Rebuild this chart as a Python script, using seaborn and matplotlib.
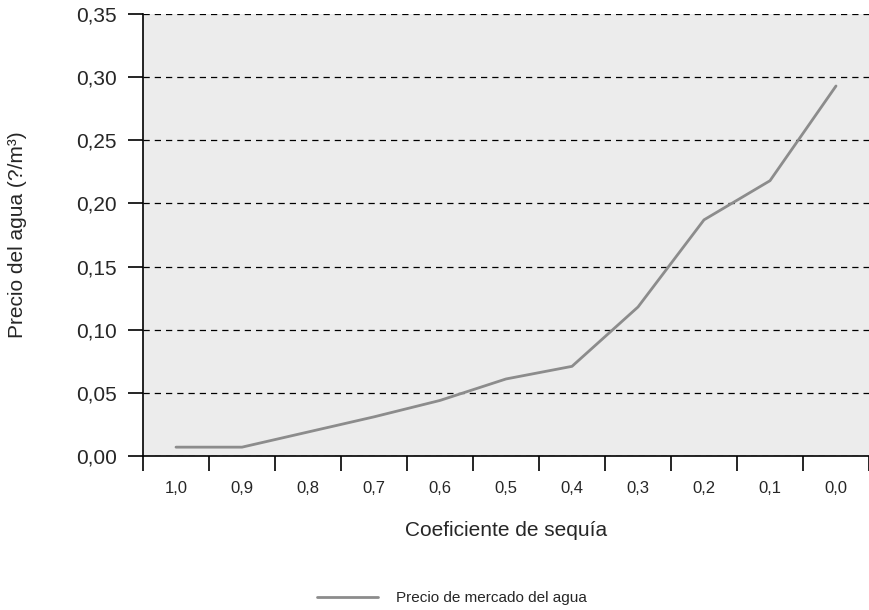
import matplotlib.pyplot as plt
import numpy as np
import pandas as pd
import seaborn as sns
from matplotlib.ticker import FixedLocator, FuncFormatter

sns.set_style("white")
plt.rcParams['font.family'] = ['Liberation Sans', 'DejaVu Sans']

# Data
coef = ["1,0", "0,9", "0,8", "0,7", "0,6", "0,5", "0,4", "0,3", "0,2", "0,1", "0,0"]
precio = [0.007, 0.007, 0.019, 0.031, 0.044, 0.061, 0.071, 0.118, 0.187, 0.218, 0.293]

df = pd.DataFrame({"coef": coef, "precio": precio})

fig = plt.figure(figsize=(8.69, 6.10), dpi=100)
ax = fig.add_axes([143 / 869, 1 - 456 / 610, 1 - 143 / 869, 442 / 610])
ax.set_facecolor("#ececec")

sns.lineplot(data=df, x="coef", y="precio", ax=ax, color="#8c8c8c",
             linewidth=2, label="Precio de mercado del agua", sort=False)

ax.set_xlim(-0.5, len(coef) - 0.5)
ax.set_ylim(0, 0.35)
ax.set_yticks(np.arange(0, 0.351, 0.05))
ax.yaxis.set_major_formatter(FuncFormatter(lambda v, p: f"{v:.2f}".replace(".", ",")))

# x labels in category centers, tick marks at the boundaries
ax.set_xticks(range(len(coef)))
ax.set_xticklabels(coef)
ax.xaxis.set_minor_locator(FixedLocator(np.arange(-0.5, len(coef) - 0.4, 1)))
ax.tick_params(axis="x", which="major", bottom=True, length=0, pad=18, labelsize=12)
ax.tick_params(axis="x", which="minor", bottom=True, length=11, width=1.2, color="black")
ax.tick_params(axis="y", left=True, length=11, width=1.2, color="black", labelsize=15, pad=8)

ax.yaxis.grid(True, linestyle=(0, (5, 4)), color="black", linewidth=0.9)
ax.xaxis.grid(False)

for s in ["top", "right"]:
    ax.spines[s].set_visible(False)
for s in ["left", "bottom"]:
    ax.spines[s].set_color("black")
    ax.spines[s].set_linewidth(1.2)

ax.set_xlabel("Coeficiente de sequía", fontsize=15, labelpad=18)
ax.set_ylabel("Precio del agua (?/m³)", fontsize=15)
ax.yaxis.set_label_coords(-(143 - 27) / (869 - 143), 0.5)

ax.get_legend().remove()
handles, labels = ax.get_legend_handles_labels()
fig.legend(handles, labels, loc="center", bbox_to_anchor=(452 / 869, 1 - 598 / 610),
           frameon=False, fontsize=11, handlelength=4, handletextpad=1.2)

fig.savefig("out.png", dpi=100)
